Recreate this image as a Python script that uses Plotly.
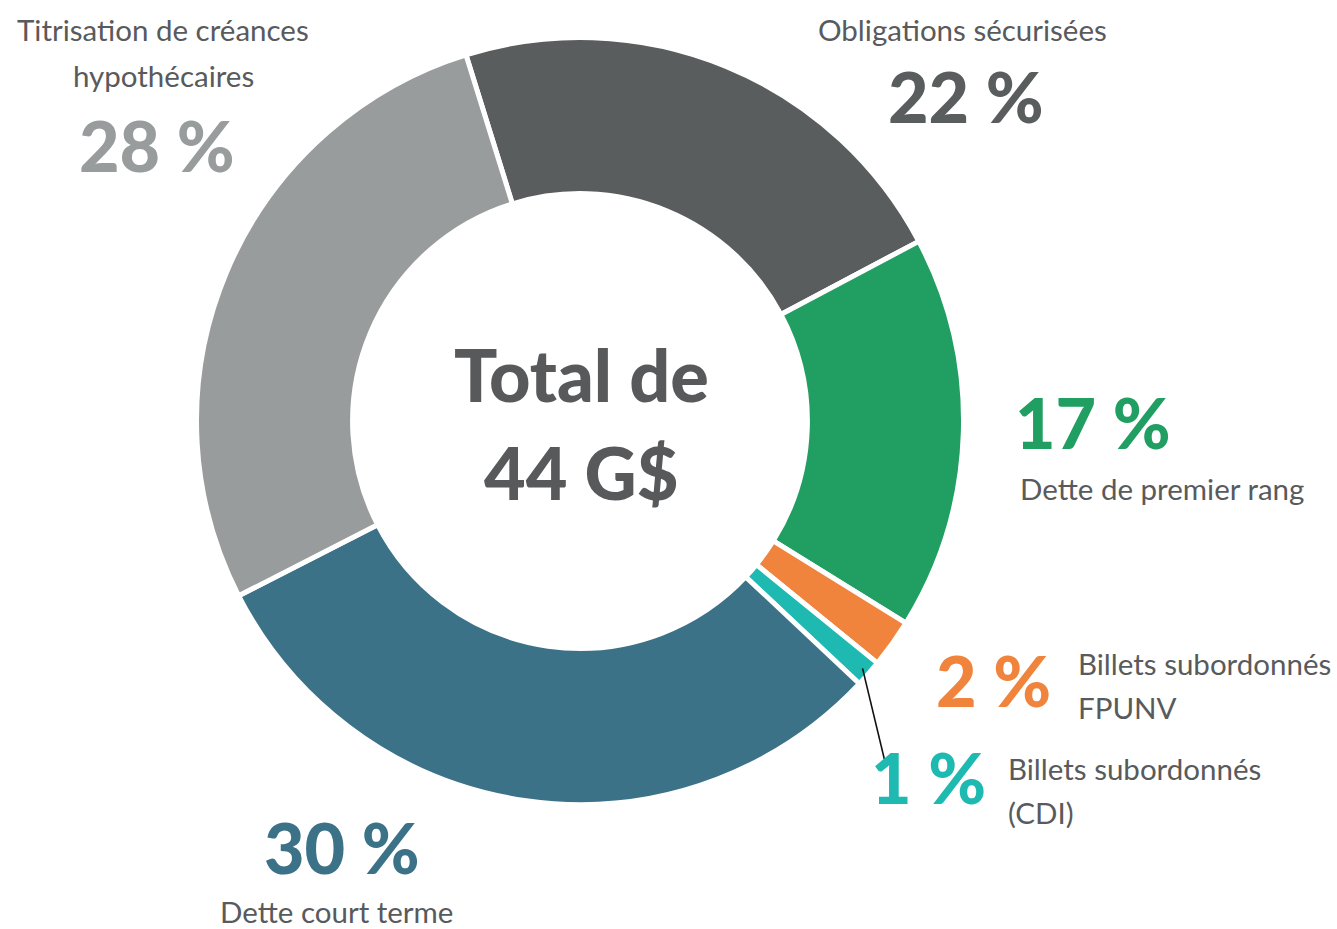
import math
import plotly.graph_objects as go

# funding mix, G$ (total 44 G$)
segments = ["Obligations sécurisées", "Dette de premier rang", "Billets subordonnés FPUNV",
            "Billets subordonnés (CDI)", "Dette court terme", "Titrisation de créances hypothécaires"]
amounts = [9.7, 7.3, 0.9, 0.5, 13.4, 12.2]
pct_labels = ["22 %", "17 %", "2 %", "1 %", "30 %", "28 %"]
colors = ["#5a5d5e", "#219e61", "#f0843c", "#1ebab1", "#3b7287", "#999c9d"]

W, H = 1337, 929
CX, CY, R = 580, 421, 383.5
ROT = -17.3
FONT = "Lato, Roboto, sans-serif"
TXT = "#595a5c"
LBL = 29.5  # label font size
PCT = 70    # big percentage font size


def px(x, y):
    return x / W, 1 - y / H


fig = go.Figure(go.Pie(
    labels=segments, values=amounts, marker=dict(colors=colors, line=dict(color="white", width=5)),
    hole=0.593, sort=False, direction="clockwise", rotation=ROT, textinfo="none",
    hoverinfo="label+percent",
    domain=dict(x=[(CX - R) / W, (CX + R) / W], y=[1 - (CY + R) / H, 1 - (CY - R) / H]),
))

anns = []


def note(text, x, y, size, color, bold=False, xanchor="center"):
    ax, ay = px(x, y)
    anns.append(dict(text=text, x=ax, y=ay, xref="paper", yref="paper",
                     xanchor=xanchor, yanchor="middle", showarrow=False,
                     font=dict(family=FONT, size=size, color=color, weight=900 if bold else 400)))


# centre
note("Total de", 581, 374, 72, "#58595b", bold=True)
note("44 G$", 581, 472, 72, "#58595b", bold=True)

# Titrisation
note("Titrisation de créances", 163, 30, LBL, TXT)
note("hypothécaires", 163, 75, LBL, TXT)
note(pct_labels[5], 157, 145, PCT, colors[5], bold=True)
# Obligations
note("Obligations sécurisées", 962, 30, LBL, TXT)
note(pct_labels[0], 966, 96, PCT, colors[0], bold=True)
# Premier rang
note(pct_labels[1], 1093, 422, PCT, colors[1], bold=True)
note("Dette de premier rang", 1018, 488, LBL, TXT, xanchor="left")
# FPUNV
note(pct_labels[2], 993, 680, PCT, colors[2], bold=True)
note("Billets subordonnés", 1076, 663, LBL, TXT, xanchor="left")
note("FPUNV", 1076, 707, LBL, TXT, xanchor="left")
# CDI
note(pct_labels[3], 928, 777, PCT, colors[3], bold=True)
note("Billets subordonnés", 1006, 768, LBL, TXT, xanchor="left")
note("(CDI)", 1006, 812, LBL, TXT, xanchor="left")
# Court terme
note(pct_labels[4], 342, 847, PCT, colors[4], bold=True)
note("Dette court terme", 336, 911, LBL, TXT)

# leader line from the CDI slice
tot = sum(amounts)
mid = ROT + 360 * (sum(amounts[:3]) + amounts[3] / 2) / tot
a = math.radians(mid)
r0 = R - 8
x0, y0 = CX + r0 * math.sin(a), CY - r0 * math.cos(a)
sx0, sy0 = px(x0, y0)
sx1, sy1 = px(886, 766)

fig.update_layout(
    width=W, height=H, margin=dict(l=0, r=0, t=0, b=0),
    paper_bgcolor="white", plot_bgcolor="white", showlegend=False,
    annotations=anns,
    shapes=[dict(type="line", xref="paper", yref="paper", x0=sx0, y0=sy0, x1=sx1, y1=sy1,
                 line=dict(color="#111111", width=1.6))],
)

fig.write_html("out.html", config={"displayModeBar": False},
               post_script="document.body.style.margin='0';")
